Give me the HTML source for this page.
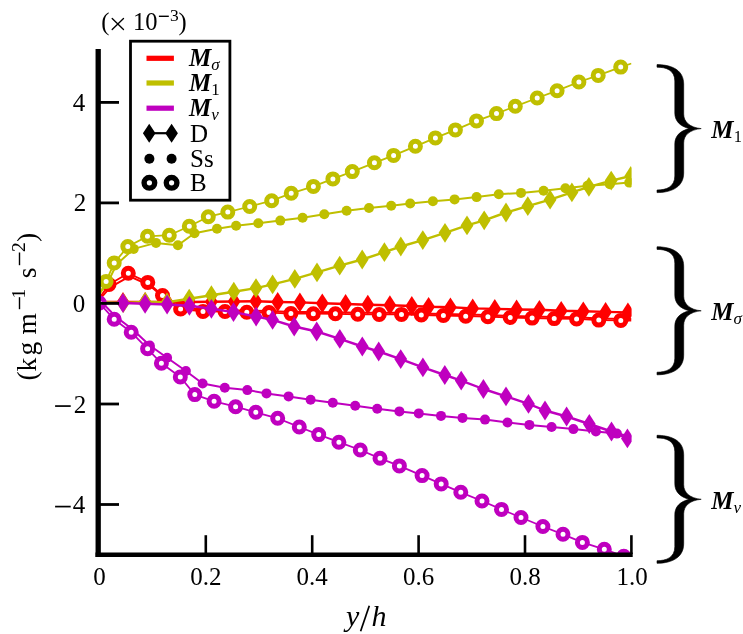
<!DOCTYPE html>
<html><head><meta charset="utf-8"><style>
html,body{margin:0;padding:0;background:#fff;}
svg{display:block;will-change:transform;}
text{font-family:"Liberation Serif",serif;}
</style></head><body>
<svg width="743" height="634" viewBox="0 0 743 634">
<defs><clipPath id="c"><rect x="99.4" y="45" width="532.2" height="509.5"/></clipPath></defs>
<rect width="743" height="634" fill="#fff"/>
<g clip-path="url(#c)">
<polyline points="99.4,302.0 123.0,302.0 145.1,302.0 167.1,302.0 189.4,302.0 211.4,301.8 234.1,301.5 255.8,301.2 277.7,302.0 299.9,302.4 322.3,303.3 345.6,304.0 367.8,304.7 389.9,305.2 411.8,306.0 428.6,306.8 450.4,307.3 472.7,308.4 494.8,308.9 516.6,309.5 539.4,309.8 561.2,310.8 583.3,311.3 605.6,311.9 627.9,312.4" fill="none" stroke="#ff0000" stroke-width="2.4" stroke-linejoin="round"/>
<path d="M123.0 292.1L129.4 302.0L123.0 311.9L116.6 302.0Z" fill="#ff0000"/>
<path d="M145.1 292.1L151.5 302.0L145.1 311.9L138.7 302.0Z" fill="#ff0000"/>
<path d="M167.1 292.1L173.5 302.0L167.1 311.9L160.7 302.0Z" fill="#ff0000"/>
<path d="M189.4 292.1L195.8 302.0L189.4 311.9L183.0 302.0Z" fill="#ff0000"/>
<path d="M211.4 291.9L217.8 301.8L211.4 311.7L205.0 301.8Z" fill="#ff0000"/>
<path d="M234.1 291.6L240.5 301.5L234.1 311.4L227.7 301.5Z" fill="#ff0000"/>
<path d="M255.8 291.3L262.2 301.2L255.8 311.1L249.4 301.2Z" fill="#ff0000"/>
<path d="M277.7 292.1L284.1 302.0L277.7 311.9L271.3 302.0Z" fill="#ff0000"/>
<path d="M299.9 292.5L306.3 302.4L299.9 312.3L293.5 302.4Z" fill="#ff0000"/>
<path d="M322.3 293.4L328.7 303.3L322.3 313.2L315.9 303.3Z" fill="#ff0000"/>
<path d="M345.6 294.1L352.0 304.0L345.6 313.9L339.2 304.0Z" fill="#ff0000"/>
<path d="M367.8 294.8L374.2 304.7L367.8 314.6L361.4 304.7Z" fill="#ff0000"/>
<path d="M389.9 295.3L396.3 305.2L389.9 315.1L383.5 305.2Z" fill="#ff0000"/>
<path d="M411.8 296.1L418.2 306.0L411.8 315.9L405.4 306.0Z" fill="#ff0000"/>
<path d="M428.6 296.9L435.0 306.8L428.6 316.7L422.2 306.8Z" fill="#ff0000"/>
<path d="M450.4 297.4L456.8 307.3L450.4 317.2L444.0 307.3Z" fill="#ff0000"/>
<path d="M472.7 298.5L479.1 308.4L472.7 318.3L466.3 308.4Z" fill="#ff0000"/>
<path d="M494.8 299.0L501.2 308.9L494.8 318.8L488.4 308.9Z" fill="#ff0000"/>
<path d="M516.6 299.6L523.0 309.5L516.6 319.4L510.2 309.5Z" fill="#ff0000"/>
<path d="M539.4 299.9L545.8 309.8L539.4 319.7L533.0 309.8Z" fill="#ff0000"/>
<path d="M561.2 300.9L567.6 310.8L561.2 320.7L554.8 310.8Z" fill="#ff0000"/>
<path d="M583.3 301.4L589.7 311.3L583.3 321.2L576.9 311.3Z" fill="#ff0000"/>
<path d="M605.6 302.0L612.0 311.9L605.6 321.8L599.2 311.9Z" fill="#ff0000"/>
<path d="M627.9 302.5L634.3 312.4L627.9 322.3L621.5 312.4Z" fill="#ff0000"/>
<polyline points="99.4,299.5 110.4,287.2 129.6,276.3 149.0,285.0 164.0,297.5 180.6,307.4 203.0,309.8 225.0,309.9 246.8,310.7 269.0,311.0 290.9,312.0 313.3,312.1 335.4,312.2 357.8,312.7 379.2,312.8 401.5,312.8 421.3,313.4 443.4,313.9 465.7,314.6 487.9,315.1 510.2,315.9 532.1,316.5 554.2,317.0 576.6,317.3 598.8,318.5 620.8,318.8 631.4,319.0" fill="none" stroke="#ff0000" stroke-width="2.0" stroke-linejoin="round"/>
<polyline points="99.4,298.0 109.0,284.5 128.3,273.2 147.8,282.4 162.5,295.5 180.6,309.0 203.0,311.4 225.0,311.5 246.8,312.3 269.0,312.6 290.9,313.6 313.3,313.7 335.4,313.8 357.8,314.3 379.2,314.4 401.5,314.4 421.3,315.0 443.4,315.5 465.7,316.2 487.9,316.7 510.2,317.5 532.1,318.1 554.2,318.6 576.6,318.9 598.8,320.1 620.8,320.4 631.4,320.6" fill="none" stroke="#ff0000" stroke-width="1.8" stroke-linejoin="round"/>
<circle cx="109.0" cy="284.5" r="5.0" fill="#fff" stroke="#ff0000" stroke-width="5.0"/>
<circle cx="128.3" cy="273.2" r="5.0" fill="#fff" stroke="#ff0000" stroke-width="5.0"/>
<circle cx="147.8" cy="282.4" r="5.0" fill="#fff" stroke="#ff0000" stroke-width="5.0"/>
<circle cx="162.5" cy="295.5" r="5.0" fill="#fff" stroke="#ff0000" stroke-width="5.0"/>
<circle cx="180.6" cy="309.0" r="5.0" fill="#fff" stroke="#ff0000" stroke-width="5.0"/>
<circle cx="203.0" cy="311.4" r="5.0" fill="#fff" stroke="#ff0000" stroke-width="5.0"/>
<circle cx="225.0" cy="311.5" r="5.0" fill="#fff" stroke="#ff0000" stroke-width="5.0"/>
<circle cx="246.8" cy="312.3" r="5.0" fill="#fff" stroke="#ff0000" stroke-width="5.0"/>
<circle cx="269.0" cy="312.6" r="5.0" fill="#fff" stroke="#ff0000" stroke-width="5.0"/>
<circle cx="290.9" cy="313.6" r="5.0" fill="#fff" stroke="#ff0000" stroke-width="5.0"/>
<circle cx="313.3" cy="313.7" r="5.0" fill="#fff" stroke="#ff0000" stroke-width="5.0"/>
<circle cx="335.4" cy="313.8" r="5.0" fill="#fff" stroke="#ff0000" stroke-width="5.0"/>
<circle cx="357.8" cy="314.3" r="5.0" fill="#fff" stroke="#ff0000" stroke-width="5.0"/>
<circle cx="379.2" cy="314.4" r="5.0" fill="#fff" stroke="#ff0000" stroke-width="5.0"/>
<circle cx="401.5" cy="314.4" r="5.0" fill="#fff" stroke="#ff0000" stroke-width="5.0"/>
<circle cx="421.3" cy="315.0" r="5.0" fill="#fff" stroke="#ff0000" stroke-width="5.0"/>
<circle cx="443.4" cy="315.5" r="5.0" fill="#fff" stroke="#ff0000" stroke-width="5.0"/>
<circle cx="465.7" cy="316.2" r="5.0" fill="#fff" stroke="#ff0000" stroke-width="5.0"/>
<circle cx="487.9" cy="316.7" r="5.0" fill="#fff" stroke="#ff0000" stroke-width="5.0"/>
<circle cx="510.2" cy="317.5" r="5.0" fill="#fff" stroke="#ff0000" stroke-width="5.0"/>
<circle cx="532.1" cy="318.1" r="5.0" fill="#fff" stroke="#ff0000" stroke-width="5.0"/>
<circle cx="554.2" cy="318.6" r="5.0" fill="#fff" stroke="#ff0000" stroke-width="5.0"/>
<circle cx="576.6" cy="318.9" r="5.0" fill="#fff" stroke="#ff0000" stroke-width="5.0"/>
<circle cx="598.8" cy="320.1" r="5.0" fill="#fff" stroke="#ff0000" stroke-width="5.0"/>
<circle cx="620.8" cy="320.4" r="5.0" fill="#fff" stroke="#ff0000" stroke-width="5.0"/>
<polyline points="99.4,301.8 123.3,303.0 145.2,301.9 167.0,302.3 189.2,298.7 211.4,295.2 233.8,291.7 256.0,288.1 272.6,284.4 294.8,278.9 317.0,272.4 339.7,265.7 362.2,259.5 384.4,252.2 400.8,246.5 422.8,240.1 445.0,232.8 467.0,225.4 484.2,220.3 506.0,212.5 527.8,206.2 550.1,199.7 571.9,192.4 588.9,186.8 611.2,180.6 630.8,176.0" fill="none" stroke="#bfbf00" stroke-width="2.4" stroke-linejoin="round"/>
<path d="M123.3 293.1L129.7 303.0L123.3 312.9L116.9 303.0Z" fill="#bfbf00"/>
<path d="M145.2 292.0L151.6 301.9L145.2 311.8L138.8 301.9Z" fill="#bfbf00"/>
<path d="M167.0 292.4L173.4 302.3L167.0 312.2L160.6 302.3Z" fill="#bfbf00"/>
<path d="M189.2 288.8L195.6 298.7L189.2 308.6L182.8 298.7Z" fill="#bfbf00"/>
<path d="M211.4 285.3L217.8 295.2L211.4 305.1L205.0 295.2Z" fill="#bfbf00"/>
<path d="M233.8 281.8L240.2 291.7L233.8 301.6L227.4 291.7Z" fill="#bfbf00"/>
<path d="M256.0 278.2L262.4 288.1L256.0 298.0L249.6 288.1Z" fill="#bfbf00"/>
<path d="M272.6 274.5L279.0 284.4L272.6 294.3L266.2 284.4Z" fill="#bfbf00"/>
<path d="M294.8 269.0L301.2 278.9L294.8 288.8L288.4 278.9Z" fill="#bfbf00"/>
<path d="M317.0 262.5L323.4 272.4L317.0 282.3L310.6 272.4Z" fill="#bfbf00"/>
<path d="M339.7 255.8L346.1 265.7L339.7 275.6L333.3 265.7Z" fill="#bfbf00"/>
<path d="M362.2 249.6L368.6 259.5L362.2 269.4L355.8 259.5Z" fill="#bfbf00"/>
<path d="M384.4 242.3L390.8 252.2L384.4 262.1L378.0 252.2Z" fill="#bfbf00"/>
<path d="M400.8 236.6L407.2 246.5L400.8 256.4L394.4 246.5Z" fill="#bfbf00"/>
<path d="M422.8 230.2L429.2 240.1L422.8 250.0L416.4 240.1Z" fill="#bfbf00"/>
<path d="M445.0 222.9L451.4 232.8L445.0 242.7L438.6 232.8Z" fill="#bfbf00"/>
<path d="M467.0 215.5L473.4 225.4L467.0 235.3L460.6 225.4Z" fill="#bfbf00"/>
<path d="M484.2 210.4L490.6 220.3L484.2 230.2L477.8 220.3Z" fill="#bfbf00"/>
<path d="M506.0 202.6L512.4 212.5L506.0 222.4L499.6 212.5Z" fill="#bfbf00"/>
<path d="M527.8 196.3L534.2 206.2L527.8 216.1L521.4 206.2Z" fill="#bfbf00"/>
<path d="M550.1 189.8L556.5 199.7L550.1 209.6L543.7 199.7Z" fill="#bfbf00"/>
<path d="M571.9 182.5L578.3 192.4L571.9 202.3L565.5 192.4Z" fill="#bfbf00"/>
<path d="M588.9 176.9L595.3 186.8L588.9 196.7L582.5 186.8Z" fill="#bfbf00"/>
<path d="M611.2 170.7L617.6 180.6L611.2 190.5L604.8 180.6Z" fill="#bfbf00"/>
<path d="M630.8 166.1L637.2 176.0L630.8 185.9L624.4 176.0Z" fill="#bfbf00"/>
<polyline points="99.4,294.0 107.5,283.0 116.5,264.5 133.7,248.9 156.0,242.9 177.9,245.2 194.5,233.3 217.0,228.7 236.1,225.8 258.3,223.2 280.3,220.6 302.6,217.8 324.3,214.2 346.6,210.8 369.0,208.0 391.2,205.8 410.2,203.5 432.9,201.2 454.6,199.4 476.6,197.1 498.8,194.3 521.0,192.9 543.6,190.7 565.4,188.3 587.5,185.8 609.8,184.3 629.2,182.6" fill="none" stroke="#bfbf00" stroke-width="2.0" stroke-linejoin="round"/>
<circle cx="133.7" cy="248.9" r="5.0" fill="#bfbf00"/>
<circle cx="156.0" cy="242.9" r="5.0" fill="#bfbf00"/>
<circle cx="177.9" cy="245.2" r="5.0" fill="#bfbf00"/>
<circle cx="194.5" cy="233.3" r="5.0" fill="#bfbf00"/>
<circle cx="217.0" cy="228.7" r="5.0" fill="#bfbf00"/>
<circle cx="236.1" cy="225.8" r="5.0" fill="#bfbf00"/>
<circle cx="258.3" cy="223.2" r="5.0" fill="#bfbf00"/>
<circle cx="280.3" cy="220.6" r="5.0" fill="#bfbf00"/>
<circle cx="302.6" cy="217.8" r="5.0" fill="#bfbf00"/>
<circle cx="324.3" cy="214.2" r="5.0" fill="#bfbf00"/>
<circle cx="346.6" cy="210.8" r="5.0" fill="#bfbf00"/>
<circle cx="369.0" cy="208.0" r="5.0" fill="#bfbf00"/>
<circle cx="391.2" cy="205.8" r="5.0" fill="#bfbf00"/>
<circle cx="410.2" cy="203.5" r="5.0" fill="#bfbf00"/>
<circle cx="432.9" cy="201.2" r="5.0" fill="#bfbf00"/>
<circle cx="454.6" cy="199.4" r="5.0" fill="#bfbf00"/>
<circle cx="476.6" cy="197.1" r="5.0" fill="#bfbf00"/>
<circle cx="498.8" cy="194.3" r="5.0" fill="#bfbf00"/>
<circle cx="521.0" cy="192.9" r="5.0" fill="#bfbf00"/>
<circle cx="543.6" cy="190.7" r="5.0" fill="#bfbf00"/>
<circle cx="565.4" cy="188.3" r="5.0" fill="#bfbf00"/>
<circle cx="587.5" cy="185.8" r="5.0" fill="#bfbf00"/>
<circle cx="609.8" cy="184.3" r="5.0" fill="#bfbf00"/>
<circle cx="629.2" cy="182.6" r="5.0" fill="#bfbf00"/>
<polyline points="99.4,294.0 106.1,281.4 114.2,262.9 127.8,246.6 147.5,236.3 169.3,235.2 189.3,226.2 208.3,216.7 227.8,212.1 249.7,206.5 271.7,200.7 291.2,193.3 313.4,186.4 332.9,178.9 352.3,171.6 374.4,162.8 393.6,155.4 415.4,146.3 435.4,137.9 455.4,129.9 476.5,120.9 496.5,113.6 515.3,106.3 537.2,98.0 557.1,90.7 578.9,82.0 598.2,75.4 620.7,67.1 631.4,63.5" fill="none" stroke="#bfbf00" stroke-width="1.8" stroke-linejoin="round"/>
<circle cx="106.1" cy="281.4" r="5.0" fill="#fff" stroke="#bfbf00" stroke-width="5.0"/>
<circle cx="114.2" cy="262.9" r="5.0" fill="#fff" stroke="#bfbf00" stroke-width="5.0"/>
<circle cx="127.8" cy="246.6" r="5.0" fill="#fff" stroke="#bfbf00" stroke-width="5.0"/>
<circle cx="147.5" cy="236.3" r="5.0" fill="#fff" stroke="#bfbf00" stroke-width="5.0"/>
<circle cx="169.3" cy="235.2" r="5.0" fill="#fff" stroke="#bfbf00" stroke-width="5.0"/>
<circle cx="189.3" cy="226.2" r="5.0" fill="#fff" stroke="#bfbf00" stroke-width="5.0"/>
<circle cx="208.3" cy="216.7" r="5.0" fill="#fff" stroke="#bfbf00" stroke-width="5.0"/>
<circle cx="227.8" cy="212.1" r="5.0" fill="#fff" stroke="#bfbf00" stroke-width="5.0"/>
<circle cx="249.7" cy="206.5" r="5.0" fill="#fff" stroke="#bfbf00" stroke-width="5.0"/>
<circle cx="271.7" cy="200.7" r="5.0" fill="#fff" stroke="#bfbf00" stroke-width="5.0"/>
<circle cx="291.2" cy="193.3" r="5.0" fill="#fff" stroke="#bfbf00" stroke-width="5.0"/>
<circle cx="313.4" cy="186.4" r="5.0" fill="#fff" stroke="#bfbf00" stroke-width="5.0"/>
<circle cx="332.9" cy="178.9" r="5.0" fill="#fff" stroke="#bfbf00" stroke-width="5.0"/>
<circle cx="352.3" cy="171.6" r="5.0" fill="#fff" stroke="#bfbf00" stroke-width="5.0"/>
<circle cx="374.4" cy="162.8" r="5.0" fill="#fff" stroke="#bfbf00" stroke-width="5.0"/>
<circle cx="393.6" cy="155.4" r="5.0" fill="#fff" stroke="#bfbf00" stroke-width="5.0"/>
<circle cx="415.4" cy="146.3" r="5.0" fill="#fff" stroke="#bfbf00" stroke-width="5.0"/>
<circle cx="435.4" cy="137.9" r="5.0" fill="#fff" stroke="#bfbf00" stroke-width="5.0"/>
<circle cx="455.4" cy="129.9" r="5.0" fill="#fff" stroke="#bfbf00" stroke-width="5.0"/>
<circle cx="476.5" cy="120.9" r="5.0" fill="#fff" stroke="#bfbf00" stroke-width="5.0"/>
<circle cx="496.5" cy="113.6" r="5.0" fill="#fff" stroke="#bfbf00" stroke-width="5.0"/>
<circle cx="515.3" cy="106.3" r="5.0" fill="#fff" stroke="#bfbf00" stroke-width="5.0"/>
<circle cx="537.2" cy="98.0" r="5.0" fill="#fff" stroke="#bfbf00" stroke-width="5.0"/>
<circle cx="557.1" cy="90.7" r="5.0" fill="#fff" stroke="#bfbf00" stroke-width="5.0"/>
<circle cx="578.9" cy="82.0" r="5.0" fill="#fff" stroke="#bfbf00" stroke-width="5.0"/>
<circle cx="598.2" cy="75.4" r="5.0" fill="#fff" stroke="#bfbf00" stroke-width="5.0"/>
<circle cx="620.7" cy="67.1" r="5.0" fill="#fff" stroke="#bfbf00" stroke-width="5.0"/>
<polyline points="99.4,303.0 123.0,303.0 145.1,303.8 167.1,304.5 189.4,305.8 211.4,308.8 233.5,312.1 256.1,316.5 272.6,319.9 294.2,326.5 316.7,331.5 339.8,338.9 362.3,346.5 378.7,351.5 400.7,359.1 422.9,367.4 444.8,375.0 461.2,380.6 483.4,389.0 506.0,396.4 528.5,403.9 545.0,410.5 566.6,416.5 589.3,424.0 611.5,431.5 627.4,438.4" fill="none" stroke="#bf00bf" stroke-width="2.4" stroke-linejoin="round"/>
<path d="M99.4 293.1L105.8 303.0L99.4 312.9L93.0 303.0Z" fill="#bf00bf"/>
<path d="M123.0 293.1L129.4 303.0L123.0 312.9L116.6 303.0Z" fill="#bf00bf"/>
<path d="M145.1 293.9L151.5 303.8L145.1 313.7L138.7 303.8Z" fill="#bf00bf"/>
<path d="M167.1 294.6L173.5 304.5L167.1 314.4L160.7 304.5Z" fill="#bf00bf"/>
<path d="M189.4 295.9L195.8 305.8L189.4 315.7L183.0 305.8Z" fill="#bf00bf"/>
<path d="M211.4 298.9L217.8 308.8L211.4 318.7L205.0 308.8Z" fill="#bf00bf"/>
<path d="M233.5 302.2L239.9 312.1L233.5 322.0L227.1 312.1Z" fill="#bf00bf"/>
<path d="M256.1 306.6L262.5 316.5L256.1 326.4L249.7 316.5Z" fill="#bf00bf"/>
<path d="M272.6 310.0L279.0 319.9L272.6 329.8L266.2 319.9Z" fill="#bf00bf"/>
<path d="M294.2 316.6L300.6 326.5L294.2 336.4L287.8 326.5Z" fill="#bf00bf"/>
<path d="M316.7 321.6L323.1 331.5L316.7 341.4L310.3 331.5Z" fill="#bf00bf"/>
<path d="M339.8 329.0L346.2 338.9L339.8 348.8L333.4 338.9Z" fill="#bf00bf"/>
<path d="M362.3 336.6L368.7 346.5L362.3 356.4L355.9 346.5Z" fill="#bf00bf"/>
<path d="M378.7 341.6L385.1 351.5L378.7 361.4L372.3 351.5Z" fill="#bf00bf"/>
<path d="M400.7 349.2L407.1 359.1L400.7 369.0L394.3 359.1Z" fill="#bf00bf"/>
<path d="M422.9 357.5L429.3 367.4L422.9 377.3L416.5 367.4Z" fill="#bf00bf"/>
<path d="M444.8 365.1L451.2 375.0L444.8 384.9L438.4 375.0Z" fill="#bf00bf"/>
<path d="M461.2 370.7L467.6 380.6L461.2 390.5L454.8 380.6Z" fill="#bf00bf"/>
<path d="M483.4 379.1L489.8 389.0L483.4 398.9L477.0 389.0Z" fill="#bf00bf"/>
<path d="M506.0 386.5L512.4 396.4L506.0 406.3L499.6 396.4Z" fill="#bf00bf"/>
<path d="M528.5 394.0L534.9 403.9L528.5 413.8L522.1 403.9Z" fill="#bf00bf"/>
<path d="M545.0 400.6L551.4 410.5L545.0 420.4L538.6 410.5Z" fill="#bf00bf"/>
<path d="M566.6 406.6L573.0 416.5L566.6 426.4L560.2 416.5Z" fill="#bf00bf"/>
<path d="M589.3 414.1L595.7 424.0L589.3 433.9L582.9 424.0Z" fill="#bf00bf"/>
<path d="M611.5 421.6L617.9 431.5L611.5 441.4L605.1 431.5Z" fill="#bf00bf"/>
<path d="M627.4 428.5L633.8 438.4L627.4 448.3L621.0 438.4Z" fill="#bf00bf"/>
<polyline points="99.4,303.0 103.0,303.5 116.0,316.9 133.0,329.8 149.8,345.5 167.1,357.7 185.9,371.0 202.6,383.5 224.8,387.8 247.3,390.1 266.5,393.4 288.6,396.4 310.6,399.7 332.8,402.8 355.2,405.8 377.2,408.8 399.4,411.4 418.8,413.4 441.0,415.9 462.5,417.9 485.0,419.6 507.5,422.5 529.4,424.9 551.6,427.0 573.4,429.1 595.9,431.5 616.9,433.6 631.4,436.5" fill="none" stroke="#bf00bf" stroke-width="2.0" stroke-linejoin="round"/>
<circle cx="99.4" cy="303.0" r="5.0" fill="#bf00bf"/>
<circle cx="149.8" cy="345.5" r="5.0" fill="#bf00bf"/>
<circle cx="167.1" cy="357.7" r="5.0" fill="#bf00bf"/>
<circle cx="185.9" cy="371.0" r="5.0" fill="#bf00bf"/>
<circle cx="202.6" cy="383.5" r="5.0" fill="#bf00bf"/>
<circle cx="224.8" cy="387.8" r="5.0" fill="#bf00bf"/>
<circle cx="247.3" cy="390.1" r="5.0" fill="#bf00bf"/>
<circle cx="266.5" cy="393.4" r="5.0" fill="#bf00bf"/>
<circle cx="288.6" cy="396.4" r="5.0" fill="#bf00bf"/>
<circle cx="310.6" cy="399.7" r="5.0" fill="#bf00bf"/>
<circle cx="332.8" cy="402.8" r="5.0" fill="#bf00bf"/>
<circle cx="355.2" cy="405.8" r="5.0" fill="#bf00bf"/>
<circle cx="377.2" cy="408.8" r="5.0" fill="#bf00bf"/>
<circle cx="399.4" cy="411.4" r="5.0" fill="#bf00bf"/>
<circle cx="418.8" cy="413.4" r="5.0" fill="#bf00bf"/>
<circle cx="441.0" cy="415.9" r="5.0" fill="#bf00bf"/>
<circle cx="462.5" cy="417.9" r="5.0" fill="#bf00bf"/>
<circle cx="485.0" cy="419.6" r="5.0" fill="#bf00bf"/>
<circle cx="507.5" cy="422.5" r="5.0" fill="#bf00bf"/>
<circle cx="529.4" cy="424.9" r="5.0" fill="#bf00bf"/>
<circle cx="551.6" cy="427.0" r="5.0" fill="#bf00bf"/>
<circle cx="573.4" cy="429.1" r="5.0" fill="#bf00bf"/>
<circle cx="595.9" cy="431.5" r="5.0" fill="#bf00bf"/>
<circle cx="616.9" cy="433.6" r="5.0" fill="#bf00bf"/>
<polyline points="99.4,303.0 114.2,319.3 131.2,332.2 147.6,348.8 161.4,363.3 180.3,377.0 194.8,394.6 214.1,401.3 235.6,406.7 255.8,412.3 277.7,418.3 299.3,427.0 318.7,434.6 338.9,442.2 360.3,450.0 380.0,458.3 399.4,465.9 422.1,475.6 441.2,483.9 460.8,492.3 482.0,501.0 501.5,509.4 521.0,517.5 542.9,526.5 563.0,534.3 582.4,542.4 604.3,549.3 623.8,556.2 631.4,558.0" fill="none" stroke="#bf00bf" stroke-width="1.8" stroke-linejoin="round"/>
<circle cx="99.4" cy="303.0" r="5.0" fill="#fff" stroke="#bf00bf" stroke-width="5.0"/>
<circle cx="114.2" cy="319.3" r="5.0" fill="#fff" stroke="#bf00bf" stroke-width="5.0"/>
<circle cx="131.2" cy="332.2" r="5.0" fill="#fff" stroke="#bf00bf" stroke-width="5.0"/>
<circle cx="147.6" cy="348.8" r="5.0" fill="#fff" stroke="#bf00bf" stroke-width="5.0"/>
<circle cx="161.4" cy="363.3" r="5.0" fill="#fff" stroke="#bf00bf" stroke-width="5.0"/>
<circle cx="180.3" cy="377.0" r="5.0" fill="#fff" stroke="#bf00bf" stroke-width="5.0"/>
<circle cx="194.8" cy="394.6" r="5.0" fill="#fff" stroke="#bf00bf" stroke-width="5.0"/>
<circle cx="214.1" cy="401.3" r="5.0" fill="#fff" stroke="#bf00bf" stroke-width="5.0"/>
<circle cx="235.6" cy="406.7" r="5.0" fill="#fff" stroke="#bf00bf" stroke-width="5.0"/>
<circle cx="255.8" cy="412.3" r="5.0" fill="#fff" stroke="#bf00bf" stroke-width="5.0"/>
<circle cx="277.7" cy="418.3" r="5.0" fill="#fff" stroke="#bf00bf" stroke-width="5.0"/>
<circle cx="299.3" cy="427.0" r="5.0" fill="#fff" stroke="#bf00bf" stroke-width="5.0"/>
<circle cx="318.7" cy="434.6" r="5.0" fill="#fff" stroke="#bf00bf" stroke-width="5.0"/>
<circle cx="338.9" cy="442.2" r="5.0" fill="#fff" stroke="#bf00bf" stroke-width="5.0"/>
<circle cx="360.3" cy="450.0" r="5.0" fill="#fff" stroke="#bf00bf" stroke-width="5.0"/>
<circle cx="380.0" cy="458.3" r="5.0" fill="#fff" stroke="#bf00bf" stroke-width="5.0"/>
<circle cx="399.4" cy="465.9" r="5.0" fill="#fff" stroke="#bf00bf" stroke-width="5.0"/>
<circle cx="422.1" cy="475.6" r="5.0" fill="#fff" stroke="#bf00bf" stroke-width="5.0"/>
<circle cx="441.2" cy="483.9" r="5.0" fill="#fff" stroke="#bf00bf" stroke-width="5.0"/>
<circle cx="460.8" cy="492.3" r="5.0" fill="#fff" stroke="#bf00bf" stroke-width="5.0"/>
<circle cx="482.0" cy="501.0" r="5.0" fill="#fff" stroke="#bf00bf" stroke-width="5.0"/>
<circle cx="501.5" cy="509.4" r="5.0" fill="#fff" stroke="#bf00bf" stroke-width="5.0"/>
<circle cx="521.0" cy="517.5" r="5.0" fill="#fff" stroke="#bf00bf" stroke-width="5.0"/>
<circle cx="542.9" cy="526.5" r="5.0" fill="#fff" stroke="#bf00bf" stroke-width="5.0"/>
<circle cx="563.0" cy="534.3" r="5.0" fill="#fff" stroke="#bf00bf" stroke-width="5.0"/>
<circle cx="582.4" cy="542.4" r="5.0" fill="#fff" stroke="#bf00bf" stroke-width="5.0"/>
<circle cx="604.3" cy="549.3" r="5.0" fill="#fff" stroke="#bf00bf" stroke-width="5.0"/>
<circle cx="623.8" cy="556.2" r="5.0" fill="#fff" stroke="#bf00bf" stroke-width="5.0"/>
</g>
<line x1="205.8" y1="554" x2="205.8" y2="535.2" stroke="#000" stroke-width="2.6"/>
<line x1="312.2" y1="554" x2="312.2" y2="535.2" stroke="#000" stroke-width="2.6"/>
<line x1="418.6" y1="554" x2="418.6" y2="535.2" stroke="#000" stroke-width="2.6"/>
<line x1="525.0" y1="554" x2="525.0" y2="535.2" stroke="#000" stroke-width="2.6"/>
<line x1="631.4" y1="554" x2="631.4" y2="535.2" stroke="#000" stroke-width="2.6"/>
<line x1="98" y1="102.4" x2="119" y2="102.4" stroke="#000" stroke-width="2.8"/>
<line x1="98" y1="202.9" x2="119" y2="202.9" stroke="#000" stroke-width="2.8"/>
<line x1="98" y1="303.4" x2="119" y2="303.4" stroke="#000" stroke-width="2.8"/>
<line x1="98" y1="404.0" x2="119" y2="404.0" stroke="#000" stroke-width="2.8"/>
<line x1="98" y1="504.5" x2="119" y2="504.5" stroke="#000" stroke-width="2.8"/>
<!-- spines -->
<line x1="98.2" y1="49" x2="98.2" y2="557" stroke="#000" stroke-width="5.3"/>
<line x1="95.5" y1="554.8" x2="632.7" y2="554.8" stroke="#000" stroke-width="4.5"/>
<text x="99.4" y="585.4" font-family="Liberation Serif" font-size="25" text-anchor="middle">0</text>
<text x="205.8" y="585.4" font-family="Liberation Serif" font-size="25" text-anchor="middle">0.2</text>
<text x="312.2" y="585.4" font-family="Liberation Serif" font-size="25" text-anchor="middle">0.4</text>
<text x="418.6" y="585.4" font-family="Liberation Serif" font-size="25" text-anchor="middle">0.6</text>
<text x="525.0" y="585.4" font-family="Liberation Serif" font-size="25" text-anchor="middle">0.8</text>
<text x="632.0" y="585.4" font-family="Liberation Serif" font-size="25" text-anchor="middle">1.0</text>
<text x="72.7" y="110.9" font-family="Liberation Serif" font-size="25">4</text>
<text x="73.7" y="211.4" font-family="Liberation Serif" font-size="25">2</text>
<text x="72.7" y="311.9" font-family="Liberation Serif" font-size="25">0</text>
<text x="73.7" y="412.5" font-family="Liberation Serif" font-size="25">2</text>
<rect x="55.1" y="405.22" width="15.6" height="1.7"/>
<text x="72.7" y="513.0" font-family="Liberation Serif" font-size="25">4</text>
<rect x="55.1" y="505.74" width="15.6" height="1.7"/>
<text x="101.3" y="30.1" font-family="Liberation Serif" font-size="24.5">(</text>
<path d="M112.2 18.5L123.5 29.5M112.2 29.5L123.5 18.5" stroke="#000" stroke-width="1.35" stroke-linecap="round"/>
<text x="133.1" y="30.0" font-family="Liberation Serif" font-size="24.5">10</text>
<rect x="158.9" y="15.6" width="9.9" height="1.4"/>
<text x="170.0" y="20.9" font-family="Liberation Serif" font-size="17.5">3</text>
<text x="178.6" y="30.1" font-family="Liberation Serif" font-size="24.5">)</text>
<g transform="translate(35.7,400) rotate(-90)" font-family="Liberation Serif" font-size="27.5">
<text x="19.5" y="0">(</text>
<text x="28.6" y="0">k</text>
<text x="44.6" y="0">g</text>
<text x="65.6" y="0">m</text>
<text x="121.8" y="0">s</text>
<text x="157.9" y="0">)</text>
<text x="101.5" y="-10.6" font-size="19.5">1</text>
<text x="147.9" y="-10.6" font-size="19.5">2</text>
<rect x="90.8" y="-16.9" width="12" height="1.4"/>
<rect x="134.8" y="-16.9" width="12.7" height="1.4"/>
</g>
<text x="346" y="625.9" font-family="Liberation Serif" font-size="30" font-style="italic">y</text>
<line x1="360.6" y1="631.2" x2="369.3" y2="605.8" stroke="#000" stroke-width="1.7"/>
<text x="371.6" y="625.9" font-family="Liberation Serif" font-size="30" font-style="italic">h</text>
<!-- legend -->
<rect x="130.5" y="41.2" width="99.4" height="159" fill="#fff" stroke="#000" stroke-width="2.8"/>
<line x1="146.5" y1="58.3" x2="173.9" y2="58.3" stroke="#ff0000" stroke-width="5.2"/>
<line x1="146.5" y1="83" x2="173.9" y2="83" stroke="#bfbf00" stroke-width="5.2"/>
<line x1="146.5" y1="108.2" x2="173.9" y2="108.2" stroke="#bf00bf" stroke-width="5.2"/>
<line x1="149.2" y1="133.2" x2="171.6" y2="133.2" stroke="#000" stroke-width="2.2"/>
<path d="M149.2 123.7L155.5 133.2L149.2 142.7L142.9 133.2Z M171.6 123.7L177.9 133.2L171.6 142.7L165.3 133.2Z" fill="#000"/>
<circle cx="149.4" cy="158.7" r="5" fill="#000"/><circle cx="171.6" cy="158.7" r="5" fill="#000"/>
<circle cx="149.4" cy="182.8" r="5.3" fill="none" stroke="#000" stroke-width="5.4"/><circle cx="171.6" cy="182.8" r="5.3" fill="none" stroke="#000" stroke-width="5.4"/>
<g font-family="Liberation Serif" font-size="25">
<text x="189" y="66.4" font-weight="bold" font-style="italic">M<tspan font-size="17" font-weight="normal" dy="4">σ</tspan></text>
<text x="189" y="91.2" font-weight="bold" font-style="italic">M<tspan font-size="17" font-weight="normal" font-style="normal" dy="4">1</tspan></text>
<text x="189" y="116.3" font-weight="bold" font-style="italic">M<tspan font-size="17" font-weight="normal" dy="4">v</tspan></text>
<text x="190" y="142">D</text>
<text x="190" y="166.8">Ss</text>
<text x="190" y="190.8">B</text>
</g>
<!-- braces -->
<path transform="translate(0,0.0)" d="M657,64.6 C668,64.6 683.7,68 683.7,84 L683.7,114 C683.7,122 690,127.5 701.2,128.6 C690,129.7 683.7,135 683.7,143 L683.7,173 C683.7,189 668,192.6 657,192.6 L657,190 C666,190 674.8,187 674.8,176 L674.8,144 C674.8,136 680,131 689,128.6 C680,126.2 674.8,121 674.8,113 L674.8,81 C674.8,70 666,67.2 657,67.2 Z" fill="#000" stroke="#000" stroke-width="0.6" stroke-linejoin="round"/>
<path transform="translate(0,182.2)" d="M657,64.6 C668,64.6 683.7,68 683.7,84 L683.7,114 C683.7,122 690,127.5 701.2,128.6 C690,129.7 683.7,135 683.7,143 L683.7,173 C683.7,189 668,192.6 657,192.6 L657,190 C666,190 674.8,187 674.8,176 L674.8,144 C674.8,136 680,131 689,128.6 C680,126.2 674.8,121 674.8,113 L674.8,81 C674.8,70 666,67.2 657,67.2 Z" fill="#000" stroke="#000" stroke-width="0.6" stroke-linejoin="round"/>
<path transform="translate(0,370.7)" d="M657,64.6 C668,64.6 683.7,68 683.7,84 L683.7,114 C683.7,122 690,127.5 701.2,128.6 C690,129.7 683.7,135 683.7,143 L683.7,173 C683.7,189 668,192.6 657,192.6 L657,190 C666,190 674.8,187 674.8,176 L674.8,144 C674.8,136 680,131 689,128.6 C680,126.2 674.8,121 674.8,113 L674.8,81 C674.8,70 666,67.2 657,67.2 Z" fill="#000" stroke="#000" stroke-width="0.6" stroke-linejoin="round"/>
<g font-family="Liberation Serif" font-size="25">
<text x="711.2" y="137.9" font-weight="bold" font-style="italic">M<tspan font-size="16.5" font-weight="normal" font-style="normal" dy="4" dx="0.4">1</tspan></text>
<text x="711.2" y="319.7" font-weight="bold" font-style="italic">M<tspan font-size="17" font-weight="normal" dy="4">σ</tspan></text>
<text x="711.2" y="508.7" font-weight="bold" font-style="italic">M<tspan font-size="17" font-weight="normal" dy="4">v</tspan></text>
</g>
</svg>
</body></html>
